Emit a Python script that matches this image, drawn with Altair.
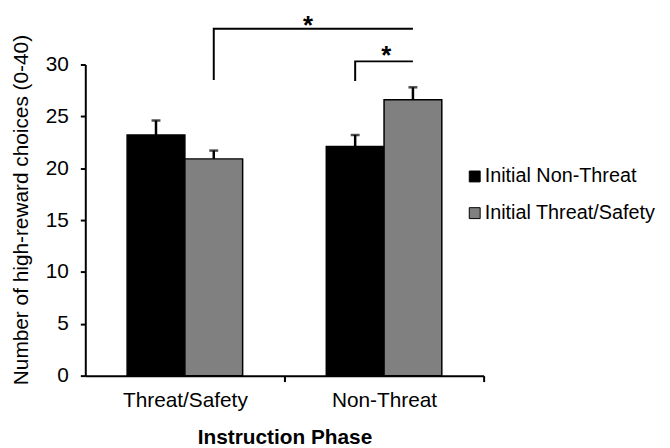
import altair as alt
import pandas as pd

phases = ["Threat/Safety", "Non-Threat"]
groups = ["Initial Non-Threat", "Initial Threat/Safety"]
mean_initial_nonthreat = [23.2, 22.1]
mean_initial_threat = [20.9, 26.6]
err_initial_nonthreat = [1.4, 1.1]
err_initial_threat = [0.8, 1.2]
colors = ["#000000", "#808080"]

# significance brackets (polyline points)
bracket_id = ["b1", "b1", "b1", "b2", "b2", "b2"]
bracket_phase = ["Threat/Safety", "Threat/Safety", "Non-Threat",
                 "Non-Threat", "Non-Threat", "Non-Threat"]
bracket_group = [groups[1], groups[1], groups[1], groups[0], groups[0], groups[1]]
bracket_y = [28.5, 33.45, 33.45, 28.4, 30.3, 30.3]
bracket_order = [0, 1, 2, 0, 1, 2]

# stars
star_phase = ["Threat/Safety", "Non-Threat"]
star_group = [groups[1], groups[1]]
star_y = [32.9, 30.0]

rows = []
for i, p in enumerate(phases):
    rows.append({"phase": p, "group": groups[0], "mean": mean_initial_nonthreat[i],
                 "top": mean_initial_nonthreat[i] + err_initial_nonthreat[i]})
    rows.append({"phase": p, "group": groups[1], "mean": mean_initial_threat[i],
                 "top": mean_initial_threat[i] + err_initial_threat[i]})
df = pd.DataFrame(rows)

br = pd.DataFrame({"id": bracket_id, "phase": bracket_phase, "group": bracket_group,
                   "y": bracket_y, "ord": bracket_order})
st = pd.DataFrame({"phase": star_phase, "group": star_group, "y": star_y})

FONT = "Liberation Sans"
FS = 21

x_enc = alt.X("phase:N", sort=phases,
              scale=alt.Scale(domain=phases, paddingInner=0.42, paddingOuter=0.21),
              axis=alt.Axis(title="Instruction Phase", labelAngle=0,
                            tickOffset=100.5, labelOffset=-100.5,
                            tickSize=6, tickWidth=2, tickColor="black",
                            domainColor="black", domainWidth=2,
                            labelFontSize=FS, labelColor="black", labelPadding=8,
                            labelFont=FONT, titleFont=FONT,
                            titleFontSize=FS, titleFontWeight="bold", titleColor="black",
                            titleY=68, titleBaseline="alphabetic"))
xo_enc = alt.XOffset("group:N", scale=alt.Scale(domain=groups))
y_scale = alt.Scale(domain=[0, 30], nice=False, zero=True)
y_enc = alt.Y("mean:Q", scale=y_scale,
              axis=alt.Axis(title="Number of high-reward choices (0-40)",
                            values=[0, 5, 10, 15, 20, 25, 30], grid=False,
                            tickSize=5, tickWidth=2, tickColor="black",
                            domainColor="black", domainWidth=2,
                            labelFontSize=FS, labelColor="black", labelPadding=12,
                            labelFont=FONT, titleFont=FONT,
                            titleFontSize=FS, titleFontWeight="normal", titleColor="black",
                            titleX=-58, titleY=146.4, titleBaseline="alphabetic"))

bars = alt.Chart(df).mark_bar(stroke="black", strokeWidth=1.5).encode(
    x=x_enc, xOffset=xo_enc, y=y_enc,
    color=alt.Color("group:N", scale=alt.Scale(domain=groups, range=colors),
                    legend=alt.Legend(title=None, orient="none", legendX=383, legendY=103,
                                      symbolType="square", symbolSize=121,
                                      symbolStrokeColor="black", symbolStrokeWidth=1,
                                      labelFontSize=20, labelFont=FONT, labelColor="black",
                                      labelOffset=0, rowPadding=17, padding=0,
                                      labelLimit=0))
)

rules = alt.Chart(df).mark_rule(color="black", strokeWidth=2.5).encode(
    x=alt.X("phase:N", sort=phases), xOffset=xo_enc,
    y=alt.Y("mean:Q", scale=y_scale), y2="top:Q")
caps = alt.Chart(df).mark_tick(color="black", size=9, thickness=2.5).encode(
    x=alt.X("phase:N", sort=phases), xOffset=xo_enc,
    y=alt.Y("top:Q", scale=y_scale))

brackets = alt.Chart(br).mark_line(color="black", strokeWidth=2).encode(
    x=alt.X("phase:N", sort=phases), xOffset=xo_enc,
    y=alt.Y("y:Q", scale=y_scale), detail="id:N", order="ord:Q")

star1 = alt.Chart(st.iloc[[0]]).mark_text(
    text="*", fontSize=26, fontWeight="bold", font=FONT, baseline="alphabetic",
    color="black", dx=95).encode(
    x=alt.X("phase:N", sort=phases), xOffset=xo_enc, y=alt.Y("y:Q", scale=y_scale))
star2 = alt.Chart(st.iloc[[1]]).mark_text(
    text="*", fontSize=26, fontWeight="bold", font=FONT, baseline="alphabetic",
    color="black", dx=-27).encode(
    x=alt.X("phase:N", sort=phases), xOffset=xo_enc, y=alt.Y("y:Q", scale=y_scale))

chart = alt.layer(bars, rules, caps, brackets, star1, star2).properties(
    width=402, height=314,
    autosize=alt.AutoSizeParams(type="none"),
    padding={"left": 78, "top": 55, "right": 180, "bottom": 70},
).configure(font=FONT).configure_view(stroke=None)

chart.save("out.html", embed_options={"renderer": "svg", "actions": False})
